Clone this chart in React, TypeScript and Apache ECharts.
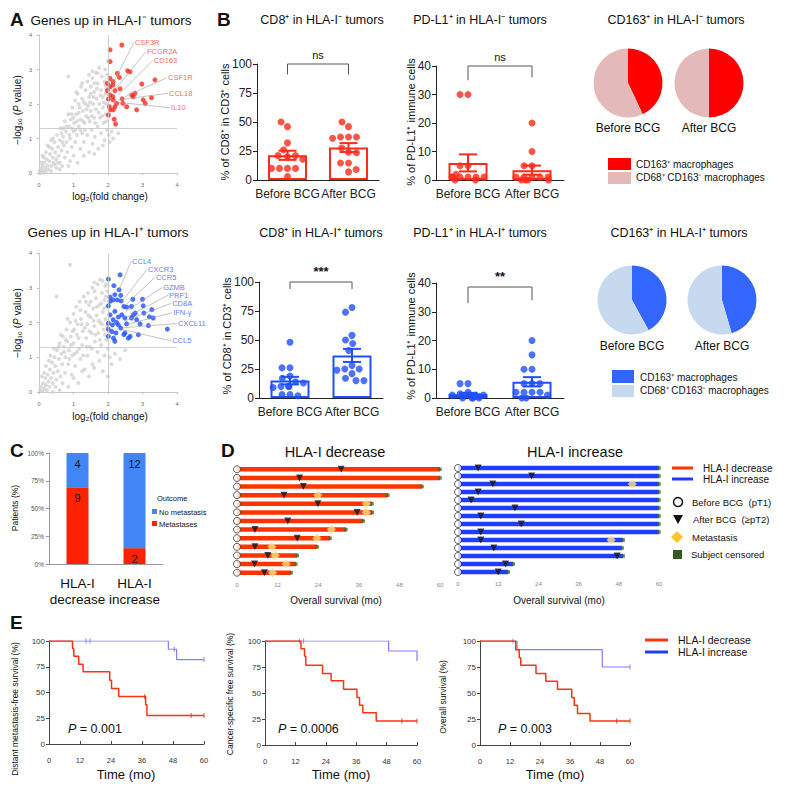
import React, { useEffect, useRef } from "react";
import * as echarts from "echarts";

const FONT = '"Liberation Sans", Arial, Helvetica, sans-serif';
const RED = "#ff2a1a";
const BLUE = "#1f4fff";
const KM_RED = "#ff3311";
const KM_BLUE = "#7f7fff";

// ---------- Panel A ----------
const grayNeg: number[][] = [
  [0.02,0.05],[0.05,0.12],[0.08,0.03],[0.1,0.2],[0.12,0.08],[0.15,0.3],[0.18,0.15],[0.2,0.05],[0.22,0.4],[0.25,0.22],
  [0.06,0.3],[0.14,0.45],[0.28,0.1],[0.3,0.35],[0.32,0.55],[0.35,0.2],[0.38,0.7],[0.4,0.45],[0.42,0.3],[0.45,0.9],
  [0.47,0.6],[0.5,0.15],[0.5,0.4],[0.52,1.1],[0.55,0.75],[0.57,0.5],[0.6,0.3],[0.6,0.95],[0.62,1.3],[0.65,0.65],
  [0.67,0.2],[0.7,1.05],[0.72,0.8],[0.75,1.5],[0.75,0.45],[0.78,1.2],[0.8,0.9],[0.82,0.6],[0.85,1.7],[0.85,2.8],
  [0.87,1.35],[0.9,1.0],[0.9,0.35],[0.92,1.55],[0.95,0.75],[0.97,1.9],[1.0,1.2],[1.0,0.5],[1.02,1.45],[1.05,2.1],
  [1.05,0.9],[1.08,1.7],[1.1,1.1],[1.12,0.3],[1.12,2.3],[1.15,1.35],[1.18,1.9],[1.2,0.7],[1.2,1.55],[1.22,2.5],
  [1.25,1.15],[1.27,1.8],[1.3,2.05],[1.3,0.9],[1.32,1.45],[1.35,2.4],[1.37,1.65],[1.4,2.65],[1.4,1.1],[1.42,1.95],
  [1.45,0.6],[1.45,2.2],[1.47,1.5],[1.5,1.8],[1.5,2.5],[1.52,1.25],[1.55,2.75],[1.55,0.85],[1.57,2.0],[1.6,1.6],
  [1.6,2.35],[1.62,1.05],[1.65,2.9],[1.65,1.85],[1.67,2.15],[1.7,1.35],[1.7,2.6],[1.72,0.7],[1.75,2.0],[1.75,3.05],
  [1.77,1.6],[1.8,2.4],[1.8,1.15],[1.82,2.8],[1.85,1.9],[1.85,2.2],[1.87,1.45],[1.9,2.65],[1.9,0.95],[1.92,3.0],
  [1.93,1.7],[1.95,2.45],[1.95,2.0],[1.97,1.25],[1.98,2.85],[2.0,3.25],[2.02,1.1],[2.05,0.9],[2.1,1.2],[2.15,1.0],
  [2.3,1.15],[0.2,0.6],[0.3,0.75],[0.35,0.95],[0.45,0.25],[0.55,0.3],[0.65,1.15],[0.68,0.9],[0.8,1.35],[0.88,1.1],
  [0.95,1.3],[1.0,1.6],[1.05,1.25],[1.1,1.5],[1.15,1.75],[1.2,1.25],[1.25,2.15],[1.28,1.5],[1.33,1.25],[1.38,1.85],
  [1.43,1.6],[1.48,2.05],[1.53,1.65],[1.58,2.2],[1.63,1.45],[1.68,2.45],[1.73,1.75],[1.78,2.25],[1.83,1.65],[1.88,2.05],
  [1.93,2.3],[1.6,2.6],[1.5,2.3],[1.35,2.0],[1.15,2.0],[0.95,1.7],[0.7,1.3],[0.4,1.0],[0.25,0.8],[0.1,0.5],
  [0.05,0.0],[0.15,0.0],[0.35,0.05],[0.6,0.1],[0.85,0.2],[1.3,0.5],[1.6,0.55],[1.85,0.8],[1.95,1.5],[1.92,2.55],
  [1.7,2.9],[1.55,2.95],[1.45,2.85],[1.25,2.6],[1.08,2.35]
];
const redNeg: number[][] = [
  [2.4,3.71],[2.06,3.57],[2.06,3.23],[2.27,2.89],[2.33,2.77],[2.06,2.74],[2.15,2.65],[2.14,2.55],[2.57,2.96],[2.64,2.93],
  [2.98,2.58],[3.36,2.7],[1.98,2.6],[2.06,2.5],[1.98,2.39],[2.2,2.39],[2.35,2.44],[2.06,2.26],[2.14,2.21],[2.69,2.26],
  [2.73,2.21],[2.78,2.31],[3.02,2.12],[3.08,2.02],[3.26,2.18],[2.01,2.14],[2.15,2.12],[2.04,1.92],[2.2,1.92],[2.43,2.02],
  [2.54,1.92],[2.83,1.83],[2.06,1.83],[2.15,1.83],[2.01,1.68],[2.18,1.56],[2.22,1.42],[2.25,2.02],[2.41,2.15]
];
const annotNeg = [
  { name: "CSF3R", lx: 2.75, ly: 3.78, tx: 2.15, ty: 2.6 },
  { name: "FCGR2A", lx: 3.1, ly: 3.52, tx: 2.2, ty: 2.41 },
  { name: "CD163", lx: 3.3, ly: 3.26, tx: 2.3, ty: 2.26 },
  { name: "CSF1R", lx: 3.71, ly: 2.76, tx: 2.49, ty: 2.21 },
  { name: "CCL18", lx: 3.74, ly: 2.31, tx: 2.3, ty: 2.12 },
  { name: "IL10", lx: 3.8, ly: 1.89, tx: 2.1, ty: 2.07 }
];
const grayPos: number[][] = [
  [0.03,0.05],[0.06,0.15],[0.1,0.02],[0.12,0.25],[0.15,0.1],[0.18,0.4],[0.2,0.2],[0.23,0.05],[0.25,0.5],[0.27,0.3],
  [0.3,0.15],[0.32,0.65],[0.35,0.4],[0.38,0.85],[0.4,0.25],[0.42,0.55],[0.45,1.0],[0.47,0.75],[0.5,0.35],[0.51,2.75],
  [0.52,1.2],[0.55,0.6],[0.58,0.95],[0.6,1.4],[0.62,0.45],[0.65,1.1],[0.67,0.8],[0.7,1.6],[0.72,1.3],[0.75,0.55],
  [0.77,1.0],[0.8,1.8],[0.82,1.45],[0.85,0.8],[0.87,1.2],[0.9,3.66],[0.9,2.0],[0.92,1.6],[0.95,0.5],[0.97,1.05],
  [1.0,2.25],[1.0,1.4],[1.02,1.8],[1.05,0.75],[1.08,2.45],[1.1,1.15],[1.12,1.95],[1.14,0.26],[1.15,1.55],[1.18,2.6],
  [1.2,0.95],[1.22,2.1],[1.25,1.35],[1.27,1.75],[1.3,2.75],[1.32,0.65],[1.35,2.3],[1.37,1.55],[1.4,1.95],[1.4,1.05],
  [1.42,2.85],[1.45,2.5],[1.47,1.3],[1.5,2.15],[1.52,1.7],[1.55,3.0],[1.55,0.8],[1.57,2.4],[1.6,1.9],[1.62,1.45],
  [1.65,2.7],[1.67,2.2],[1.7,3.1],[1.7,1.15],[1.72,1.7],[1.75,2.5],[1.77,3.23],[1.78,2.0],[1.8,1.35],[1.82,2.85],
  [1.85,2.3],[1.85,0.6],[1.87,1.8],[1.9,2.65],[1.9,1.05],[1.92,3.05],[1.93,2.1],[1.95,1.5],[1.97,2.45],[1.98,2.9],
  [2.0,1.25],[2.05,1.0],[2.1,0.8],[2.2,1.1],[2.35,0.95],[2.5,1.2],[2.0,0.45],[0.15,0.55],[0.28,0.9],[0.33,1.05],
  [0.43,1.25],[0.48,0.15],[0.57,1.3],[0.63,1.65],[0.68,0.25],[0.73,1.15],[0.78,1.5],[0.83,2.1],[0.88,0.95],[0.93,1.35],
  [0.98,1.75],[1.03,1.1],[1.06,2.05],[1.1,1.65],[1.16,1.25],[1.2,2.35],[1.24,1.95],[1.28,1.05],[1.33,1.85],[1.36,2.6],
  [1.38,1.3],[1.43,2.2],[1.46,1.75],[1.5,2.6],[1.53,1.25],[1.58,2.05],[1.61,2.9],[1.63,1.65],[1.68,2.45],[1.73,2.05],
  [1.76,1.5],[1.8,2.55],[1.83,1.95],[1.88,2.4],[1.91,1.65],[1.94,2.75],[1.96,1.9],[1.25,0.6],[1.45,0.45],[0.6,0.05],
  [0.85,0.15],[0.4,0.0],[1.0,0.4],[1.6,0.7],[1.75,0.9],[0.2,0.75],[0.08,0.45],[1.95,3.1],[1.85,3.2],[1.6,3.15]
];
const bluePos: number[][] = [
  [2.35,3.37],[2.01,3.25],[2.32,2.94],[2.2,2.8],[2.37,2.78],[2.06,2.73],[2.15,2.65],[2.27,2.65],[2.38,2.62],[2.72,2.67],
  [3.0,2.67],[2.54,2.44],[2.46,2.46],[2.01,2.48],[2.79,2.27],[3.02,2.48],[3.27,2.37],[2.2,2.32],[2.4,2.22],[2.68,2.13],
  [3.04,2.27],[3.2,2.16],[3.31,2.13],[2.06,2.22],[2.15,2.08],[2.3,2.16],[2.49,2.13],[2.73,2.22],[2.83,2.08],[2.01,1.98],
  [2.13,1.93],[2.25,2.0],[2.37,1.84],[2.54,1.96],[2.93,1.96],[3.17,1.91],[3.72,1.81],[2.01,1.81],[2.11,1.74],[2.23,1.7],
  [2.49,1.7],[2.64,1.6],[2.88,1.65],[2.01,1.6],[2.16,1.55],[2.2,1.46],[2.46,1.65],[2.59,1.55],[2.3,1.93],[2.06,2.61],
  [2.17,3.06],[2.68,2.46]
];
const annotPos = [
  { name: "CCL4", lx: 2.67, ly: 3.76, tx: 2.32, ty: 2.94 },
  { name: "CXCR3", lx: 3.13, ly: 3.53, tx: 2.4, ty: 2.6 },
  { name: "CCR5", lx: 3.36, ly: 3.3, tx: 2.45, ty: 2.45 },
  { name: "GZMB", lx: 3.57, ly: 3.01, tx: 2.5, ty: 2.3 },
  { name: "PRF1", lx: 3.74, ly: 2.79, tx: 2.55, ty: 2.15 },
  { name: "CD8A", lx: 3.83, ly: 2.55, tx: 2.5, ty: 2.05 },
  { name: "IFN-γ", lx: 3.86, ly: 2.28, tx: 2.55, ty: 1.95 },
  { name: "CXCL11", lx: 4.0, ly: 1.97, tx: 2.45, ty: 1.85 },
  { name: "CCL5", lx: 3.83, ly: 1.47, tx: 2.4, ty: 1.8 }
];

// ---------- Panel B ----------
const bcgCategories = ["Before BCG", "After BCG"];
const cd8NegBefore = [46, 50, 32, 26, 20, 21, 21, 18, 10, 10, 10, 10, 3];
const cd8NegAfter = [37, 46, 50, 37, 37, 36, 24, 27.5, 23.5, 14.7, 14.7, 7, 9];
const pdl1NegBefore = [30, 30, 5, 5, 1, 1, 1, 1, 1, 1, 0, 0, 2];
const pdl1NegAfter = [20, 10, 5, 5, 1, 1, 1, 1, 1, 0, 0, 0, 0];
const cd8PosBefore = [48, 26, 26, 19, 17, 14, 13, 10, 10, 10, 9, 3, 3, 2];
const cd8PosAfter = [78, 74, 54, 50, 47, 41, 28, 25, 25, 24, 21, 17, 15, 15];
const pdl1PosBefore = [5, 5, 2, 1.5, 1, 1, 1, 1, 0.5, 0.5, 0, 0, 0, 0];
const pdl1PosAfter = [20, 15, 10, 10, 5, 5, 5, 2, 2, 2, 2, 1, 0, 0];
const significance = ["ns", "ns", "***", "**"];
// CD163+ share of macrophages (%)
const cd163NegShare = [43, 50];
const cd163PosShare = [42, 45.5];

// ---------- Panel C ----------
const outcomeGroups = ["HLA-I\ndecrease", "HLA-I\nincrease"];
const metastasesCount = [9, 2];
const noMetastasisCount = [4, 12];

// ---------- Panel D ----------
const decEnd = [60, 60, 54.7, 44.6, 39.9, 40, 37.3, 32.2, 27.5, 23.7, 17.8, 17.4, 16];
const decAfter = [30.8, 18.5, 19.6, 13.9, 23.9, 35.5, 15, 5.3, 17.8, 5.3, 9.1, 5.2, 8.1];
const decMet: (number | null)[] = [null, null, null, 23.9, 38.2, 38.2, null, 27.9, 23.6, 10.3, 11.3, 14.5, 10.5];
const incEnd = [60, 60, 60, 60, 60, 60, 60, 60, 60, 49.3, 49, 49.3, 16.5, 15];
const incAfter = [6, 22, 10.4, 6, 3.9, 17, 6.8, 18.9, 6.8, 6.8, 10.7, 47.5, 14.2, 12];
const incMet: (number | null)[] = [null, null, 52, null, null, null, null, null, null, 45.7, null, null, null, null];

// ---------- Panel E ----------
const mfsDec = [[0,100],[9.1,92.6],[9.6,85.2],[11.5,77.5],[13.2,70.1],[23.5,62],[24.2,54],[27,46],[37.4,38],[37.9,27.7],[60,27.7]];
const mfsDecCens = [[37,46],[55,27.7],[60,27.7]];
const mfsInc = [[0,100],[46.2,92],[49.4,82],[60,82]];
const mfsIncCens = [[14.3,100],[15.9,100],[48.5,92],[60,82]];
const cssDec = [[0,100],[14.2,92.6],[15.6,85.3],[16.1,76.7],[22.7,68.7],[26.1,61.7],[31,53.7],[36.3,45.7],[37.3,38.3],[38.6,31],[43.9,23],[60,23]];
const cssDecCens = [[54,23],[60,23]];
const cssInc = [[0,100],[48.8,90.4],[60,80.8]];
const cssIncCens = [[13.6,100],[15.2,100]];
const osDec = [[0,100],[14.3,91.7],[15.7,84],[16.3,76.7],[22.4,68.7],[26.3,61.3],[31,53.7],[36.7,45.7],[37.7,38.3],[39,30.4],[44,23],[60,23]];
const osDecCens = [[54.7,23],[60,23]];
const osInc = [[0,100],[14.8,91.7],[48.9,75],[60,75]];
const osIncCens = [[13.2,100],[60,75]];
const pValues = ["0.001", "0.0006", "0.003"];

const mean = (a: number[]) => a.reduce((s, v) => s + v, 0) / a.length;
const sem = (a: number[]) => {
  const m = mean(a);
  const v = a.reduce((s, x) => s + (x - m) * (x - m), 0) / (a.length - 1);
  return Math.sqrt(v / a.length);
};

function T(x: number, y: number, text: string, size: number, o: any = {}) {
  return {
    type: "text", x, y, silent: true, rotation: o.rot || 0,
    style: {
      text, fontSize: size, fontFamily: FONT, fill: o.fill || "#111",
      align: o.align || "center", verticalAlign: "middle",
      fontWeight: o.weight || "normal", fontStyle: o.style || "normal", rich: o.rich
    }
  };
}

function buildOption() {
  const grids = [
    { left: 39, top: 35, width: 138, height: 138 },
    { left: 39, top: 253, width: 138, height: 139 },
    { left: 257, top: 64, width: 122, height: 116 },
    { left: 436, top: 66, width: 128, height: 114 },
    { left: 259, top: 282, width: 124, height: 116 },
    { left: 436, top: 283, width: 128, height: 115 },
    { left: 49, top: 453, width: 114, height: 111 },
    { left: 237, top: 465, width: 203, height: 112 },
    { left: 458, top: 464, width: 201, height: 112 },
    { left: 49, top: 641, width: 155, height: 103 },
    { left: 265, top: 641, width: 152, height: 104 },
    { left: 480, top: 641, width: 150, height: 104 }
  ];
  const xAxis: any[] = [];
  const yAxis: any[] = [];
  const series: any[] = [];

  // A axes
  [0, 1].forEach((g) => {
    xAxis.push({ gridIndex: g, type: "value", min: 0, max: 4, interval: 1, offset: 5,
      axisLine: { lineStyle: { color: "#bbb", width: 0.8 } }, axisTick: { length: 2, lineStyle: { color: "#bbb" } },
      axisLabel: { fontSize: 5.5, color: "#666", margin: 4 }, splitLine: { show: false } });
    yAxis.push({ gridIndex: g, type: "value", min: 0, max: 4, interval: 1, offset: 4,
      axisLine: { show: true, lineStyle: { color: "#bbb", width: 0.8 } }, axisTick: { show: true, length: 2, lineStyle: { color: "#bbb" } },
      axisLabel: { fontSize: 5.5, color: "#666", margin: 3 }, splitLine: { show: false } });
  });
  const aPanel = (g: number, gray: number[][], col: number[][], annot: any[], color: string, labelColor: string) => {
    series.push({ type: "scatter", xAxisIndex: g, yAxisIndex: g, data: gray, symbolSize: 4, silent: true,
      itemStyle: { color: "#d2d2d2" },
      markLine: { silent: true, symbol: ["none", "none"], label: { show: false },
        lineStyle: { color: "#c4c4c4", width: 0.8, type: "solid" }, data: [{ xAxis: 2 }, { yAxis: 1.3 }] } });
    series.push({ type: "scatter", xAxisIndex: g, yAxisIndex: g, data: col, symbolSize: 5, silent: true, itemStyle: { color }, z: 3 });
    series.push({ type: "scatter", xAxisIndex: g, yAxisIndex: g, silent: true, symbolSize: 0,
      data: annot.map((a) => [a.lx, a.ly, a.name]),
      label: { show: true, position: "right", distance: 1, fontSize: 7.5, color: labelColor, fontFamily: FONT,
        formatter: (p: any) => p.value[2] },
      markLine: { silent: true, symbol: ["none", "none"], label: { show: false },
        lineStyle: { color: "#9a9a9a", width: 0.6, type: "solid" },
        data: annot.map((a) => [{ coord: [a.lx, a.ly] }, { coord: [a.tx, a.ty] }]) } });
  };
  aPanel(0, grayNeg, redNeg, annotNeg, RED, "#ff3b2f");
  aPanel(1, grayPos, bluePos, annotPos, BLUE, "#3355ff");

  // B bar panels
  const bPanels = [
    { g: 2, b: cd8NegBefore, a: cd8NegAfter, color: RED, max: 100, int: 25, sig: significance[0], br: [100, 91, 91] },
    { g: 3, b: pdl1NegBefore, a: pdl1NegAfter, color: RED, max: 40, int: 10, sig: significance[1], br: [40, 35, 36] },
    { g: 4, b: cd8PosBefore, a: cd8PosAfter, color: BLUE, max: 100, int: 25, sig: significance[2], br: [100, 94, 94] },
    { g: 5, b: pdl1PosBefore, a: pdl1PosAfter, color: BLUE, max: 40, int: 10, sig: significance[3], br: [38.6, 33, 34] }
  ];
  bPanels.forEach((p) => {
    xAxis.push({ gridIndex: p.g, type: "category", data: bcgCategories, jitter: 34, jitterOverlap: false, jitterMargin: 1,
      axisLine: { lineStyle: { color: "#222", width: 1 } }, axisTick: { alignWithLabel: true, length: 4, lineStyle: { color: "#222" } },
      axisLabel: { interval: 0, fontSize: 12, color: "#222", margin: 8, fontFamily: FONT } });
    yAxis.push({ gridIndex: p.g, type: "value", min: 0, max: p.max, interval: p.int,
      axisLine: { show: true, lineStyle: { color: "#222", width: 1 } }, axisTick: { show: true, length: 4, lineStyle: { color: "#222" } },
      axisLabel: { fontSize: 12, color: "#222", margin: 5, fontFamily: FONT }, splitLine: { show: false } });
    series.push({ type: "bar", xAxisIndex: p.g, yAxisIndex: p.g, data: [mean(p.b), mean(p.a)], barWidth: 39, silent: true,
      itemStyle: { color: "#ffffff", borderColor: p.color, borderWidth: 2 }, z: 1 });
    series.push({ type: "scatter", xAxisIndex: p.g, yAxisIndex: p.g, silent: true, symbolSize: 7,
      data: [...p.b.map((v) => [0, v]), ...p.a.map((v) => [1, v])], itemStyle: { color: p.color }, z: 3 });
    series.push({ type: "custom", xAxisIndex: p.g, yAxisIndex: p.g, silent: true, z: 4,
      data: [[0, mean(p.b), sem(p.b)], [1, mean(p.a), sem(p.a)]],
      renderItem: (_: any, api: any) => {
        const x = api.value(0), m = api.value(1), s = api.value(2);
        const t = api.coord([x, m + s]);
        const b = api.coord([x, Math.max(0, m - s)]);
        const hw = 9;
        const st = { stroke: p.color, lineWidth: 2 };
        return { type: "group", children: [
          { type: "line", shape: { x1: t[0], y1: t[1], x2: b[0], y2: b[1] }, style: st },
          { type: "line", shape: { x1: t[0] - hw, y1: t[1], x2: t[0] + hw, y2: t[1] }, style: st },
          { type: "line", shape: { x1: b[0] - hw, y1: b[1], x2: b[0] + hw, y2: b[1] }, style: st }
        ] };
      } });
    series.push({ type: "custom", xAxisIndex: p.g, yAxisIndex: p.g, silent: true, z: 4,
      data: [[0, p.br[0], p.br[1], p.br[2]]],
      renderItem: (_: any, api: any) => {
        const yb = api.value(1), yl = api.value(2), yr = api.value(3);
        const p0 = api.coord([0, yl]), p1 = api.coord([0, yb]), p2 = api.coord([1, yb]), p3 = api.coord([1, yr]);
        return { type: "group", children: [
          { type: "polyline", shape: { points: [p0, p1, p2, p3] }, style: { stroke: "#555", lineWidth: 1, fill: null } },
          { type: "text", x: (p1[0] + p2[0]) / 2, y: p1[1] - 4,
            style: { text: p.sig, fontSize: p.sig === "ns" ? 11 : 13, fontWeight: p.sig === "ns" ? "normal" : "bold",
              fill: "#111", align: "center", verticalAlign: "bottom", fontFamily: FONT } }
        ] };
      } });
  });

  // B pies
  const pie = (cx: number, cy: number, share: number, c1: string, c2: string) => ({
    type: "pie", center: [cx, cy], radius: 34.5, startAngle: 90, clockwise: true, silent: true,
    label: { show: false }, labelLine: { show: false },
    data: [{ value: share, itemStyle: { color: c1 } }, { value: 100 - share, itemStyle: { color: c2 } }]
  });
  series.push(pie(628, 83, cd163NegShare[0], "#ff0000", "#e4b9b9"));
  series.push(pie(709, 83, cd163NegShare[1], "#ff0000", "#e4b9b9"));
  series.push(pie(632, 300, cd163PosShare[0], "#3366ff", "#c6d9ef"));
  series.push(pie(722, 300, cd163PosShare[1], "#3366ff", "#c6d9ef"));

  // C
  xAxis.push({ gridIndex: 6, type: "category", data: outcomeGroups,
    axisLine: { lineStyle: { color: "#999" } }, axisTick: { show: false },
    axisLabel: { interval: 0, fontSize: 13.5, color: "#111", lineHeight: 16, margin: 11, fontFamily: FONT } });
  yAxis.push({ gridIndex: 6, type: "value", min: 0, max: 100, interval: 25,
    axisLine: { show: true, lineStyle: { color: "#999" } }, axisTick: { show: true, length: 3, lineStyle: { color: "#999" } },
    axisLabel: { fontSize: 6.5, color: "#555", formatter: "{value}%", margin: 5 }, splitLine: { show: false } });
  const tot = metastasesCount.map((v, i) => v + noMetastasisCount[i]);
  const cLabel = (counts: number[]) => ({ show: true, position: "insideTop", distance: 5, fontSize: 11, color: "#111",
    fontFamily: FONT, formatter: (p: any) => String(counts[p.dataIndex]) });
  series.push({ type: "bar", xAxisIndex: 6, yAxisIndex: 6, stack: "c", barWidth: 22, silent: true,
    data: metastasesCount.map((v, i) => (v / tot[i]) * 100), itemStyle: { color: "#ff2200" }, label: cLabel(metastasesCount) });
  series.push({ type: "bar", xAxisIndex: 6, yAxisIndex: 6, stack: "c", barWidth: 22, silent: true,
    data: noMetastasisCount.map((v, i) => (v / tot[i]) * 100), itemStyle: { color: "#4285f4" }, label: cLabel(noMetastasisCount) });

  // D
  const dPanel = (g: number, ends: number[], after: number[], met: (number | null)[], color: string) => {
    xAxis.push({ gridIndex: g, type: "value", min: 0, max: 60, interval: 12,
      axisLine: { lineStyle: { color: "#cfcfcf", width: 2 } }, axisTick: { show: false },
      axisLabel: { fontSize: 6, color: "#888", margin: 5 }, splitLine: { show: false } });
    yAxis.push({ gridIndex: g, type: "category", inverse: true, show: false, data: ends.map((_, i) => String(i + 1)) });
    series.push({ type: "bar", xAxisIndex: g, yAxisIndex: g, data: ends, barWidth: 4.5, silent: true, itemStyle: { color } });
    series.push({ type: "scatter", xAxisIndex: g, yAxisIndex: g, silent: true, symbol: "rect", symbolSize: 3.5, z: 4,
      data: ends.map((v, i) => [v, i]), itemStyle: { color: "#3c6b2c" } });
    series.push({ type: "scatter", xAxisIndex: g, yAxisIndex: g, silent: true, symbol: "circle", symbolSize: 7, z: 5,
      data: ends.map((_, i) => [0, i]), itemStyle: { color: "#fff", borderColor: "#333", borderWidth: 1 } });
    series.push({ type: "scatter", xAxisIndex: g, yAxisIndex: g, silent: true, symbol: "diamond", symbolSize: [9, 10], z: 5,
      data: met.map((v, i) => (v == null ? null : [v, i])).filter((d) => d) as number[][], itemStyle: { color: "#ffdf85" } });
    series.push({ type: "scatter", xAxisIndex: g, yAxisIndex: g, silent: true, symbol: "triangle", symbolRotate: 180, symbolSize: 7, z: 6,
      data: after.map((v, i) => [v, i]), itemStyle: { color: "#111" } });
  };
  dPanel(7, decEnd, decAfter, decMet, "#ff3300");
  dPanel(8, incEnd, incAfter, incMet, "#1f3dff");

  // E
  const ePanel = (g: number, dec: number[][], decC: number[][], inc: number[][], incC: number[][]) => {
    xAxis.push({ gridIndex: g, type: "value", min: 0, max: 60, interval: 12,
      axisLine: { lineStyle: { color: "#444" } }, axisTick: { inside: true, length: 3, lineStyle: { color: "#444" } },
      axisLabel: { fontSize: 7.5, color: "#333", margin: 12 }, splitLine: { show: false } });
    yAxis.push({ gridIndex: g, type: "value", min: 0, max: 100, interval: 25,
      axisLine: { show: true, lineStyle: { color: "#444" } }, axisTick: { show: true, length: 3, lineStyle: { color: "#444" } },
      axisLabel: { fontSize: 8, color: "#333", margin: 4 }, splitLine: { show: false } });
    series.push({ type: "line", xAxisIndex: g, yAxisIndex: g, data: inc, step: "end", symbol: "none", silent: true,
      lineStyle: { color: KM_BLUE, width: 1.2 } });
    series.push({ type: "scatter", xAxisIndex: g, yAxisIndex: g, data: incC, symbol: "rect", symbolSize: [1.2, 5], silent: true,
      itemStyle: { color: KM_BLUE } });
    series.push({ type: "line", xAxisIndex: g, yAxisIndex: g, data: dec, step: "end", symbol: "none", silent: true,
      lineStyle: { color: KM_RED, width: 1.5 } });
    series.push({ type: "scatter", xAxisIndex: g, yAxisIndex: g, data: decC, symbol: "rect", symbolSize: [1.2, 5], silent: true,
      itemStyle: { color: KM_RED } });
  };
  ePanel(9, mfsDec, mfsDecCens, mfsInc, mfsIncCens);
  ePanel(10, cssDec, cssDecCens, cssInc, cssIncCens);
  ePanel(11, osDec, osDecCens, osInc, osIncCens);

  const R = Math.PI / 2;
  const italicP = { i: { fontStyle: "italic", fontSize: 10, fontFamily: FONT, fill: "#111" } };
  const pRich = { i: { fontStyle: "italic", fontSize: 12.5, fontFamily: FONT, fill: "#111" } };
  const graphic: any[] = [
    T(10, 19, "A", 19, { weight: "bold", align: "left" }),
    T(217, 19, "B", 19, { weight: "bold", align: "left" }),
    T(10, 450, "C", 19, { weight: "bold", align: "left" }),
    T(221, 450, "D", 19, { weight: "bold", align: "left" }),
    T(10, 622, "E", 19, { weight: "bold", align: "left" }),
    T(111, 20, "Genes up in HLA-I⁻ tumors", 13.5),
    T(108, 232, "Genes up in HLA-I⁺ tumors", 13.5),
    T(17, 110, "−log₁₀ ({i|P} value)", 10, { rot: R, rich: italicP }),
    T(17, 323, "−log₁₀ ({i|P} value)", 10, { rot: R, rich: italicP }),
    T(110, 196, "log₂(fold change)", 10),
    T(110, 416, "log₂(fold change)", 10),
    T(322, 20, "CD8⁺ in HLA-I⁻ tumors", 12.5),
    T(480, 20, "PD-L1⁺ in HLA-I⁻ tumors", 12.5),
    T(676, 20, "CD163⁺ in HLA-I⁻ tumors", 12.5),
    T(321, 233, "CD8⁺ in HLA-I⁺ tumors", 12.5),
    T(480, 233, "PD-L1⁺ in HLA-I⁺ tumors", 12.5),
    T(679, 233, "CD163⁺ in HLA-I⁺ tumors", 12.5),
    T(225, 122, "% of CD8⁺ in CD3⁺ cells", 11, { rot: R }),
    T(411, 122, "% of PD-L1⁺ immune cells", 11, { rot: R }),
    T(227, 336, "% of CD8⁺ in CD3⁺ cells", 11, { rot: R }),
    T(411, 336, "% of PD-L1⁺ immune cells", 11, { rot: R }),
    T(628, 128, "Before BCG", 12), T(709, 128, "After BCG", 12),
    T(632, 346, "Before BCG", 12), T(722, 346, "After BCG", 12),
    { type: "rect", silent: true, shape: { x: 608, y: 158, width: 23, height: 12 }, style: { fill: "#ff0000" } },
    { type: "rect", silent: true, shape: { x: 608, y: 172, width: 23, height: 12 }, style: { fill: "#e4b9b9" } },
    T(636, 164, "CD163⁺ macrophages", 10, { align: "left" }),
    T(636, 177, "CD68⁺ CD163⁻ macrophages", 10, { align: "left" }),
    { type: "rect", silent: true, shape: { x: 612, y: 370, width: 22, height: 13 }, style: { fill: "#3366ff" } },
    { type: "rect", silent: true, shape: { x: 612, y: 385, width: 22, height: 12 }, style: { fill: "#c6d9ef" } },
    T(640, 377, "CD163⁺ macrophages", 10, { align: "left" }),
    T(640, 390, "CD68⁺ CD163⁻ macrophages", 10, { align: "left" }),
    // C
    T(15, 508, "Patients (%)", 8.5, { rot: R }),
    T(157, 498, "Outcome", 7.5, { align: "left" }),
    { type: "rect", silent: true, shape: { x: 152, y: 509, width: 5, height: 5 }, style: { fill: "#4285f4" } },
    T(159, 512, "No metastasis", 7.5, { align: "left" }),
    { type: "rect", silent: true, shape: { x: 152, y: 521, width: 5, height: 5 }, style: { fill: "#ff2200" } },
    T(159, 524, "Metastases", 7.5, { align: "left" }),
    // D
    T(335, 452, "HLA-I decrease", 14.5),
    T(575, 452, "HLA-I increase", 14.5),
    T(336, 600, "Overall survival (mo)", 10),
    T(559, 600, "Overall survival (mo)", 10),
    { type: "line", silent: true, shape: { x1: 672, y1: 468, x2: 693, y2: 468 }, style: { stroke: "#ff3300", lineWidth: 3 } },
    { type: "line", silent: true, shape: { x1: 672, y1: 479, x2: 693, y2: 479 }, style: { stroke: "#1f3dff", lineWidth: 3 } },
    T(703, 468, "HLA-I decrease", 10, { align: "left" }),
    T(703, 479, "HLA-I increase", 10, { align: "left" }),
    { type: "circle", silent: true, shape: { cx: 678, cy: 502, r: 4.5 }, style: { fill: "#fff", stroke: "#111", lineWidth: 1.5 } },
    { type: "polygon", silent: true, shape: { points: [[673, 515], [683, 515], [678, 524]] }, style: { fill: "#111" } },
    { type: "polygon", silent: true, shape: { points: [[677, 531], [683, 537], [677, 543], [671, 537]] }, style: { fill: "#ffc629" } },
    { type: "rect", silent: true, shape: { x: 673, y: 550, width: 9, height: 9 }, style: { fill: "#375a1e" } },
    T(692, 502, "Before BCG  (pT1)", 9.5, { align: "left" }),
    T(693, 519, "After BCG  (≥pT2)", 9.5, { align: "left" }),
    T(692, 537, "Metastasis", 9.5, { align: "left" }),
    T(691, 554, "Subject censored", 9.5, { align: "left" }),
    // E
    T(15, 709, "Distant metastasis-free survival (%)", 8.5, { rot: R }),
    T(230, 694, "Cancer-specific free survival (%)", 8.5, { rot: R }),
    T(443, 697, "Overall survival (%)", 8.5, { rot: R }),
    T(126, 774, "Time (mo)", 13), T(341, 774, "Time (mo)", 13), T(555, 774, "Time (mo)", 13),
    T(68, 729, "{i|P} = " + pValues[0], 12.5, { align: "left", rich: pRich }),
    T(278, 729, "{i|P} = " + pValues[1], 12.5, { align: "left", rich: pRich }),
    T(498, 729, "{i|P} = " + pValues[2], 12.5, { align: "left", rich: pRich }),
    { type: "line", silent: true, shape: { x1: 645, y1: 640, x2: 668, y2: 640 }, style: { stroke: "#ff3311", lineWidth: 3 } },
    { type: "line", silent: true, shape: { x1: 645, y1: 652, x2: 668, y2: 652 }, style: { stroke: "#1f3dff", lineWidth: 3 } },
    T(678, 640, "HLA-I decrease", 10.5, { align: "left" }),
    T(678, 652, "HLA-I increase", 10.5, { align: "left" })
  ];

  return {
    animation: false,
    backgroundColor: "#ffffff",
    textStyle: { fontFamily: FONT },
    grid: grids,
    xAxis,
    yAxis,
    series,
    graphic
  };
}

export default function App() {
  const ref = useRef<HTMLDivElement>(null);
  useEffect(() => {
    const chart = echarts.init(ref.current!, null, { renderer: "svg" });
    chart.setOption(buildOption() as any);
    return () => chart.dispose();
  }, []);
  return (
    <div
      ref={ref}
      style={{ position: "absolute", left: 0, top: 0, width: 785, height: 791, background: "#fff" }}
    />
  );
}
